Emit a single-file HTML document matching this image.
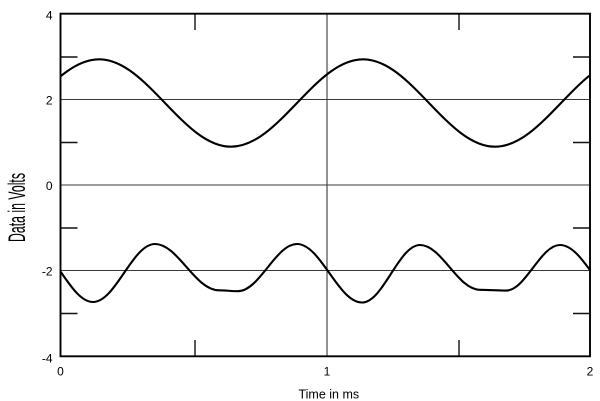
<!DOCTYPE html>
<html>
<head>
<meta charset="utf-8">
<style>
  html, body { margin: 0; padding: 0; background: #ffffff; }
  svg { display: block; }
  text { font-family: "Liberation Sans", Arial, sans-serif; fill: #000; }
</style>
</head>
<body>
<svg width="600" height="401" viewBox="0 0 600 401" xmlns="http://www.w3.org/2000/svg">
  <defs>
    <clipPath id="plot">
      <rect x="60.5" y="13.7" width="529.5" height="342.6"/>
    </clipPath>
  </defs>
  <rect x="0" y="0" width="600" height="401" fill="#ffffff"/>

  <!-- grid lines -->
  <g stroke="#3a3a3a" stroke-width="1.1" fill="none">
    <line x1="60.5" y1="99.5" x2="590" y2="99.5"/>
    <line x1="60.5" y1="185" x2="590" y2="185"/>
    <line x1="60.5" y1="270.5" x2="590" y2="270.5"/>
    <line x1="327" y1="13.7" x2="327" y2="356.3"/>
  </g>

  <!-- ticks -->
  <g stroke="#111" stroke-width="1.4" fill="none">
    <line x1="60.5" y1="57" x2="77.5" y2="57"/>
    <line x1="60.5" y1="142.5" x2="77.5" y2="142.5"/>
    <line x1="60.5" y1="228" x2="77.5" y2="228"/>
    <line x1="60.5" y1="313.5" x2="77.5" y2="313.5"/>
    <line x1="573" y1="57" x2="590" y2="57"/>
    <line x1="573" y1="142.5" x2="590" y2="142.5"/>
    <line x1="573" y1="228" x2="590" y2="228"/>
    <line x1="573" y1="313.5" x2="590" y2="313.5"/>
    <line x1="195" y1="13.7" x2="195" y2="30"/>
    <line x1="459" y1="13.7" x2="459" y2="30"/>
    <line x1="195" y1="340" x2="195" y2="356.3"/>
    <line x1="459" y1="340" x2="459" y2="356.3"/>
  </g>

  <!-- curves -->
  <g clip-path="url(#plot)" fill="none" stroke="#000" stroke-width="2.1" stroke-linejoin="round">
    <path d="M33,103
      C54.52,80.61 75.11,59.3 99,59.3
      C122.89,59.3 143.48,80.61 165,103
      C186.52,125.39 207.11,146.7 231,146.7
      C254.89,146.7 275.48,125.39 297,103
      C318.52,80.61 339.11,59.3 363,59.3
      C386.89,59.3 407.48,80.61 429,103
      C450.52,125.39 471.11,146.7 495,146.7
      C518.89,146.7 539.48,125.39 561,103
      C582.52,80.61 603.11,59.3 627,59.3"/>
    <path d="M30,244
      C52.9,244 70.1,302 93,302
      C115.6,302 132.4,244 155,244
      C178,244 195,290.3 219,290.3
      C226,290.3 231,291.2 238,291.2
      C259.3,291.2 275.7,244 297,244
      C320.7,244 338.3,302.5 362,302.5
      C383.1,302.5 398.9,245 420,245
      C441.8,245 457.6,289.8 480,289.8
      C488,289.8 498,290.6 506,290.6
      C525.6,290.6 540.4,245 560,245
      C583.7,245 601.3,302 625,302"/>
  </g>

  <!-- frame -->
  <rect x="60.5" y="13.7" width="529.5" height="342.6" fill="none" stroke="#000" stroke-width="1.9"/>

  <!-- y tick labels -->
  <g font-size="12" text-anchor="end">
    <text x="52.5" y="19.3">4</text>
    <text x="52.5" y="104.3">2</text>
    <text x="52.5" y="189.8">0</text>
    <text x="52.5" y="275.3">-2</text>
    <text x="52.5" y="362.5">-4</text>
  </g>

  <!-- x tick labels -->
  <g font-size="12" text-anchor="middle">
    <text x="60.5" y="375.3">0</text>
    <text x="327" y="375.3">1</text>
    <text x="590" y="375.3">2</text>
  </g>

  <!-- axis titles -->
  <text x="328.8" y="398.3" font-size="12.5" text-anchor="middle">Time in ms</text>
  <text transform="translate(25,207.5) rotate(-90)" font-size="24.5" text-anchor="middle" textLength="69" lengthAdjust="spacingAndGlyphs">Data in Volts</text>
</svg>
</body>
</html>
